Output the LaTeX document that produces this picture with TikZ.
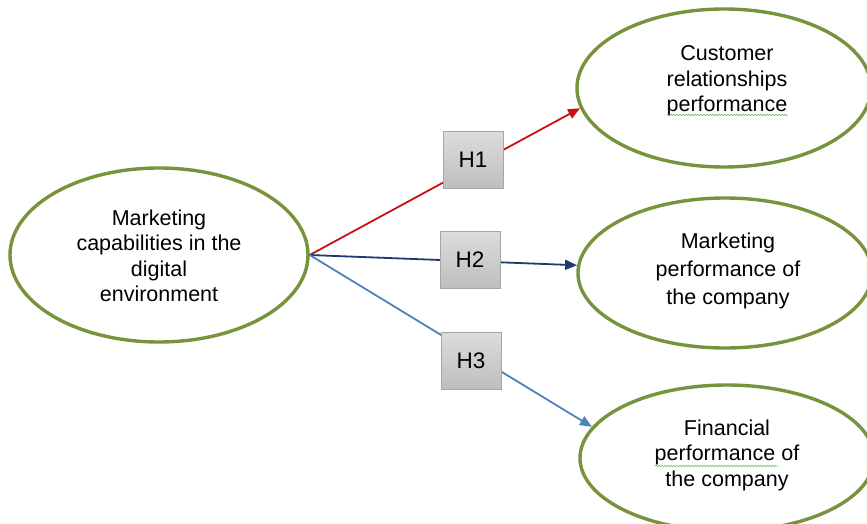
\documentclass[tikz,border=0pt]{standalone}
\usepackage{fontspec}
\setmainfont{Liberation Sans}
\usetikzlibrary{shapes.geometric,arrows.meta,decorations.pathmorphing}
\definecolor{ellgreen}{HTML}{77933C}
\definecolor{boxtop}{HTML}{DCDCDC}
\definecolor{boxbot}{HTML}{BEBEBE}
\definecolor{boxborder}{HTML}{A6A6A6}
\definecolor{hred}{HTML}{CC1010}
\definecolor{hnavy}{HTML}{1F3A6E}
\definecolor{hsteel}{HTML}{4F81BD}
\definecolor{spell}{HTML}{5CB85C}
\begin{document}
\begin{tikzpicture}[x=1pt,y=-1pt,
  ell/.style={ellipse, draw=ellgreen, line width=3.4pt, inner sep=0pt, fill=white},
  hbox/.style={draw=boxborder, line width=0.8pt, top color=boxtop, bottom color=boxbot,
    minimum width=60pt, minimum height=57pt, inner sep=0pt, font=\fontsize{22.5}{26}\selectfont},
  lbl/.style={align=center, inner sep=0pt, font=\fontsize{21.5}{25.5}\selectfont},
  conn/.style={line width=1.8pt, -{Triangle[length=12pt,width=10pt]}},
  squiggle/.style={spell, line width=0.5pt, decorate, decoration={snake, amplitude=0.9pt, segment length=3pt}}
]
\useasboundingbox (0,0) rectangle (867,524);
% ellipses
\node[ell, minimum width=298pt, minimum height=174pt] (L) at (159,255) {};
\node[ell, minimum width=294pt, minimum height=158pt] (T) at (724,88) {};
\node[ell, minimum width=294pt, minimum height=150pt] (M) at (725,273) {};
\node[ell, minimum width=294pt, minimum height=146pt] (B) at (727,458) {};
% texts
\node[lbl] (Lt) at (159,256) {Marketing\\capabilities in the\\digital\\environment};
\node[lbl] (Tt) at (727,81) {Customer\\relationships\\performance};
\node[lbl, font=\fontsize{21.5}{28}\selectfont] (Mt) at (728,271) {Marketing\\performance of\\the company};
\node[lbl] (Bt) at (727,455) {Financial\\performance of\\the company};
% spelling squiggles
\draw[squiggle] (667,115) -- (788,115);
\draw[squiggle] (655,466) -- (778,466);
% connectors
\draw[conn, hred] (L.east) -- (T.188);
\draw[conn, hnavy] (L.east) -- (M.177);
\draw[conn, hsteel] (L.east) -- (B.167);
% boxes
\node[hbox] (H1) at (473,160) {H1};
\node[hbox] (H2) at (470,260) {H2};
\node[hbox] (H3) at (471,361) {H3};
\end{tikzpicture}
\end{document}
